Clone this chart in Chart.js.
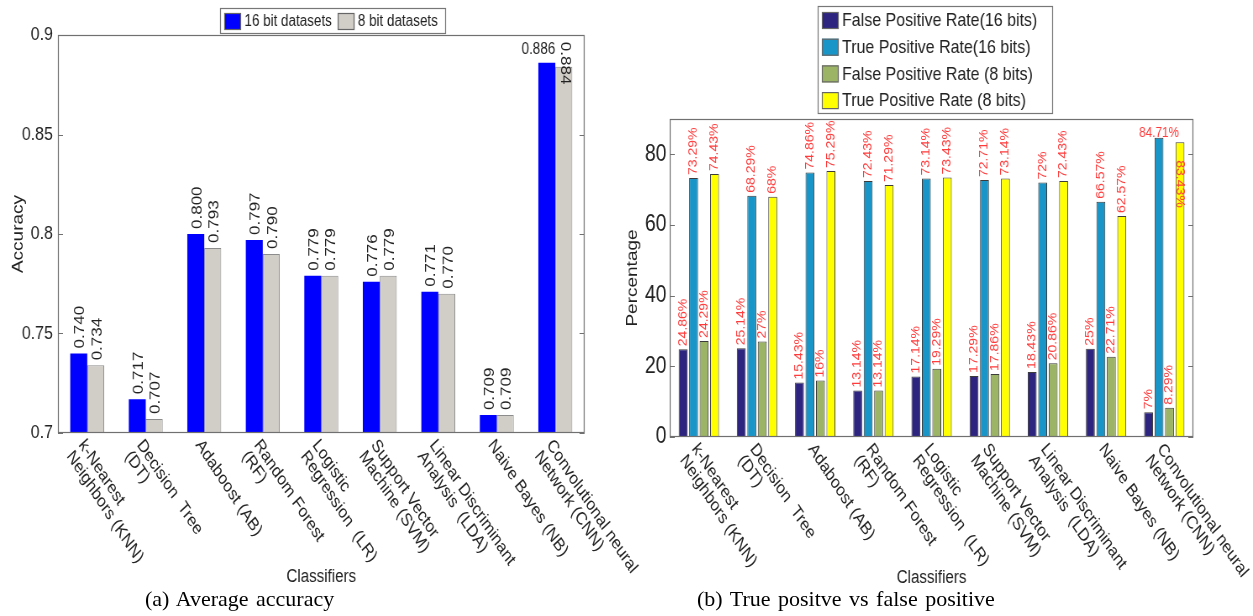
<!DOCTYPE html>
<html>
<head>
<meta charset="utf-8">
<script src="https://cdn.jsdelivr.net/npm/chart.js@4.4.0/dist/chart.umd.min.js"></script>
<style>
  body { margin: 0; background: #fff; width: 1253px; height: 616px; overflow: hidden; position: relative; }
  canvas { position: absolute; top: 0; }
  #accChart { left: 0; }
  #rateChart { left: 600px; }
  .cap { position: absolute; top: 586px; font: 22px 'Liberation Serif', 'Times New Roman', serif; color: #000; white-space: pre; word-spacing: 2px; }
</style>
</head>
<body>
<!-- the figures are squeezed sideways like the scanned original: wide canvases shown narrower -->
<canvas id="rateChart" width="777" height="616" style="width:653px;height:616px"></canvas>
<canvas id="accChart" width="762" height="616" style="width:640px;height:616px"></canvas>
<div class="cap" style="left:145px">(a) Average accuracy</div>
<div class="cap" style="left:697px">(b) True positve vs false positive</div>
<script>
const classifiers = [
  ['k-Nearest', 'Neighbors (KNN)'],
  ['Decision  Tree', '(DT)'],
  ['Adaboost (AB)'],
  ['Random Forest', '(RF)'],
  ['Logistic', 'Regression  (LR)'],
  ['Support Vector', 'Machine (SVM)'],
  ['Linear Discriminant', 'Analysis  (LDA)'],
  ['Naive Bayes (NB)'],
  ['Convolutional neural', 'Network (CNN)']
];

// (a) average accuracy
const acc16 = [0.740, 0.717, 0.800, 0.797, 0.779, 0.776, 0.771, 0.709, 0.886];
const acc8 = [0.734, 0.707, 0.793, 0.790, 0.779, 0.779, 0.770, 0.709, 0.884];
const accTicks = [0.7, 0.75, 0.8, 0.85, 0.9];

// (b) true / false positive rates
const fpr16 = [24.86, 25.14, 15.43, 13.14, 17.14, 17.29, 18.43, 25, 7];
const tpr16 = [73.29, 68.29, 74.86, 72.43, 73.14, 72.71, 72, 66.57, 84.71];
const fpr8 = [27.2, 27, 16, 13.14, 19.29, 17.86, 20.86, 22.71, 8.29];
const tpr8 = [74.43, 68, 75.29, 71.29, 73.43, 73.14, 72.43, 62.57, 83.43];
// the printed label of the first 8-bit FPR bar differs from its height
const fpr8Text = ['24.29%', '27%', '16%', '13.14%', '19.29%', '17.86%', '20.86%', '22.71%', '8.29%'];
const pctTicks = [0, 20, 40, 60, 80];

const SANS = "'Liberation Sans', Arial, sans-serif";
const INK = '#222';
const RED = '#ff3b3b';

// Box round the plot area with small inward ticks on both sides
const frame = {
  id: 'frame',
  afterDatasetsDraw(chart) {
    const { ctx, chartArea: a, scales: { y } } = chart;
    ctx.save();
    ctx.strokeStyle = '#707070';
    ctx.lineWidth = 1.2;
    ctx.strokeRect(a.left + 0.5, a.top + 0.5, a.width - 1, a.height - 1);
    ctx.beginPath();
    y.ticks.forEach(t => {
      const py = Math.round(y.getPixelForValue(t.value)) + 0.5;
      ctx.moveTo(a.left, py); ctx.lineTo(a.left + 6, py);
      ctx.moveTo(a.right, py); ctx.lineTo(a.right - 6, py);
    });
    ctx.stroke();
    ctx.restore();
  }
};

// Category labels slanted downwards to the right
const slantLabels = {
  id: 'slantLabels',
  afterDraw(chart, args, o) {
    const { ctx, chartArea: a, scales: { x } } = chart;
    ctx.save();
    ctx.fillStyle = INK;
    ctx.font = o.font;
    ctx.textAlign = 'left';
    ctx.textBaseline = 'middle';
    chart.data.labels.forEach((lines, i) => {
      ctx.save();
      ctx.translate(x.getPixelForValue(i) + o.dx, a.bottom + o.dy);
      ctx.rotate(o.angle * Math.PI / 180);
      lines.forEach((s, k) => ctx.fillText(s, 0, k * o.lineH));
      ctx.restore();
    });
    ctx.restore();
  }
};

// Legend in a framed box
const boxLegend = {
  id: 'boxLegend',
  afterDraw(chart, args, o) {
    const ctx = chart.ctx;
    ctx.save();
    ctx.fillStyle = '#fff';
    ctx.fillRect(o.x, o.y, o.w, o.h);
    ctx.strokeStyle = '#777';
    ctx.lineWidth = 1.2;
    ctx.strokeRect(o.x + 0.5, o.y + 0.5, o.w, o.h);
    ctx.font = o.font;
    ctx.textBaseline = 'middle';
    let cx = o.x + 5, cy = o.y + o.first;
    chart.data.datasets.forEach(ds => {
      ctx.fillStyle = ds.backgroundColor;
      ctx.fillRect(cx, cy - 8, 20, 17);
      ctx.strokeStyle = '#666';
      ctx.strokeRect(cx + 0.5, cy - 7.5, 19, 16);
      ctx.fillStyle = INK;
      ctx.fillText(ds.label, cx + 24, cy + 1);
      if (o.row) cx += 24 + ctx.measureText(ds.label).width + 7;
      else cy += o.step;
    });
    ctx.restore();
  }
};

function putText(ctx, text, x, y, angle, align, baseline) {
  ctx.save();
  ctx.translate(x, y);
  ctx.rotate(angle);
  ctx.textAlign = align;
  ctx.textBaseline = baseline;
  ctx.fillText(text, 0, 0);
  ctx.restore();
}

// Values above the accuracy bars
const accLabels = {
  id: 'accLabels',
  afterDatasetsDraw(chart) {
    const ctx = chart.ctx;
    const last = classifiers.length - 1;
    ctx.save();
    ctx.fillStyle = INK;
    chart.data.datasets.forEach((ds, di) => {
      chart.getDatasetMeta(di).data.forEach((bar, i) => {
        const text = ds.data[i].toFixed(3);
        if (i === last && di === 0) {
          ctx.font = `16px ${SANS}`;
          putText(ctx, text, bar.x + 10, bar.y - 5, 0, 'right', 'bottom');
        } else if (i === last) {
          ctx.font = `17px ${SANS}`;
          putText(ctx, text, bar.x + 1, bar.y - 25, Math.PI / 2, 'left', 'middle');
        } else {
          ctx.font = `17px ${SANS}`;
          putText(ctx, text, bar.x + 2, bar.y - 5, -Math.PI / 2, 'left', 'middle');
        }
      });
    });
    ctx.restore();
  }
};

// Red percentages above the rate bars
const rateLabels = {
  id: 'rateLabels',
  afterDatasetsDraw(chart) {
    const ctx = chart.ctx;
    const last = classifiers.length - 1;
    ctx.save();
    ctx.fillStyle = RED;
    chart.data.datasets.forEach((ds, di) => {
      chart.getDatasetMeta(di).data.forEach((bar, i) => {
        const text = di === 2 ? fpr8Text[i] : ds.data[i] + '%';
        ctx.font = `14px ${SANS}`;
        if (i === last && di === 1) {
          putText(ctx, text, bar.x, bar.y + 2, 0, 'center', 'bottom');
        } else if (i === last && di === 3) {
          putText(ctx, text, bar.x, bar.y + 18, Math.PI / 2, 'left', 'middle');
        } else {
          putText(ctx, text, bar.x, bar.y - 3, -Math.PI / 2, 'left', 'middle');
        }
      });
    });
    ctx.restore();
  }
};

new Chart(document.getElementById('accChart'), {
  type: 'bar',
  data: {
    labels: classifiers,
    datasets: [
      { label: '16 bit datasets', data: acc16, backgroundColor: '#0000ff', borderWidth: 0 },
      { label: '8 bit datasets', data: acc8, backgroundColor: '#d1cdc7', borderColor: '#8c8c8c', borderWidth: 1 }
    ]
  },
  options: {
    responsive: false,
    animation: false,
    layout: { padding: { left: 0, top: 35, right: 66, bottom: 0 } },
    datasets: { bar: { categoryPercentage: 0.58, barPercentage: 1 } },
    scales: {
      x: {
        grid: { display: false, drawTicks: false },
        border: { display: false },
        ticks: { display: false },
        title: { display: true, text: 'Classifiers', color: INK, font: { family: SANS, size: 18 }, padding: { top: 0, bottom: 28 } },
        afterFit: s => { s.height = 183; }
      },
      y: {
        min: 0.7,
        max: 0.9,
        grid: { display: false, drawTicks: false },
        border: { display: false },
        afterBuildTicks: s => { s.ticks = accTicks.map(v => ({ value: v })); },
        ticks: { color: INK, font: { family: SANS, size: 19 }, padding: 6, callback: v => String(v) },
        title: { display: true, text: 'Accuracy', color: INK, font: { family: SANS, size: 19 }, padding: { top: 10, bottom: 0 } },
        afterFit: s => { s.width = 69; }
      }
    },
    plugins: {
      legend: { display: false },
      tooltip: { enabled: false },
      slantLabels: { font: `18px ${SANS}`, angle: 52, dx: -7, dy: 9, lineH: 18 },
      boxLegend: { x: 262, y: 8, w: 268, h: 25, first: 13, row: true, font: `16px ${SANS}` }
    }
  },
  plugins: [frame, accLabels, slantLabels, boxLegend]
});

new Chart(document.getElementById('rateChart'), {
  type: 'bar',
  data: {
    labels: classifiers,
    datasets: [
      { label: 'False Positive Rate(16 bits)', data: fpr16, backgroundColor: '#2d2480' },
      { label: 'True Positive Rate(16 bits)', data: tpr16, backgroundColor: '#1995c8' },
      { label: 'False Positive Rate (8 bits)', data: fpr8, backgroundColor: '#9cb465' },
      { label: 'True Positive Rate (8 bits)', data: tpr8, backgroundColor: '#ffff00' }
    ]
  },
  options: {
    responsive: false,
    animation: false,
    layout: { padding: { left: 0, top: 119, right: 71, bottom: 0 } },
    datasets: { bar: { categoryPercentage: 0.72, barPercentage: 0.85, borderColor: '#3c3c3c', borderWidth: 1 } },
    scales: {
      x: {
        grid: { display: false, drawTicks: false },
        border: { display: false },
        ticks: { display: false },
        title: { display: true, text: 'Classifiers', color: INK, font: { family: SANS, size: 18 }, padding: { top: 0, bottom: 27 } },
        afterFit: s => { s.height = 179; }
      },
      y: {
        min: 0,
        max: 90,
        grid: { display: false, drawTicks: false },
        border: { display: false },
        afterBuildTicks: s => { s.ticks = pctTicks.map(v => ({ value: v })); },
        ticks: { color: INK, font: { family: SANS, size: 23 }, padding: 4 },
        title: { display: true, text: 'Percentage', color: INK, font: { family: SANS, size: 19 }, padding: { top: 27, bottom: 0 } },
        afterFit: s => { s.width = 83; }
      }
    },
    plugins: {
      legend: { display: false },
      tooltip: { enabled: false },
      slantLabels: { font: `18px ${SANS}`, angle: 52, dx: -5, dy: 9, lineH: 18 },
      boxLegend: { x: 259, y: 6, w: 279, h: 107, first: 14, step: 26.7, row: false, font: `19px ${SANS}` }
    }
  },
  plugins: [frame, rateLabels, slantLabels, boxLegend]
});
</script>
</body>
</html>
